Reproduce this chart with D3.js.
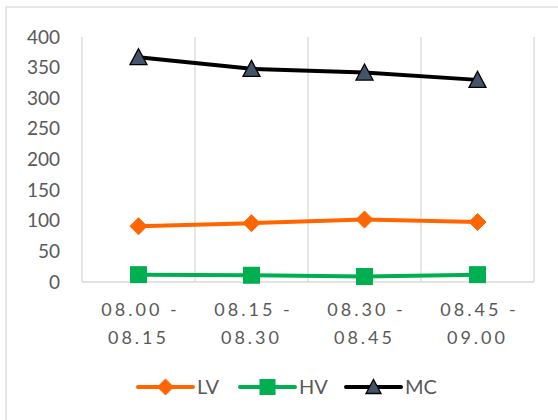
<!DOCTYPE html>
<html>
<head>
<meta charset="utf-8">
<script src="https://cdn.jsdelivr.net/npm/d3@7"></script>
<style>
  html, body { margin: 0; padding: 0; background: #fff; }
  svg { display: block; }
  text { font-family: Lato, "Open Sans", sans-serif; fill: #595959; }
</style>
</head>
<body>
<div id="chart"></div>
<script>
// Time intervals (two-line labels)
const categories = [
  ["08.00 -", "08.15"],
  ["08.15 -", "08.30"],
  ["08.30 -", "08.45"],
  ["08.45 -", "09.00"]
];
const lvValues = [91, 96, 102, 98];
const hvValues = [12, 11, 9, 12];
const mcValues = [367, 348, 342, 330];
const yTicks = [0, 50, 100, 150, 200, 250, 300, 350, 400];

const series = [
  { name: "LV", values: lvValues, color: "#FF6600", marker: "diamond" },
  { name: "HV", values: hvValues, color: "#00B050", marker: "square" },
  { name: "MC", values: mcValues, color: "#000000", marker: "triangle" }
];

const W = 558, H = 420;
const margin = { left: 82, right: 24, top: 37, bottom: 138 };

const svg = d3.select("#chart").append("svg")
  .attr("width", W).attr("height", H);

// chart frame
svg.append("rect")
  .attr("x", 6).attr("y", 7).attr("width", 560).attr("height", 420)
  .attr("fill", "none").attr("stroke", "#d9d9d9").attr("stroke-width", 1.3);

const x = d3.scaleBand()
  .domain(categories.map((d, i) => i))
  .range([margin.left, W - margin.right])
  .paddingInner(0).paddingOuter(0);

const y = d3.scaleLinear()
  .domain([0, 400])
  .range([H - margin.bottom, margin.top]);

// vertical category gridlines
const gridX = categories.map((d, i) => x(i)).concat([x(categories.length - 1) + x.bandwidth()]);
svg.append("g").selectAll("line").data(gridX).join("line")
  .attr("x1", d => d).attr("x2", d => d)
  .attr("y1", y(400)).attr("y2", y(0))
  .attr("stroke", "#d9d9d9").attr("stroke-width", 1.3);

// baseline
svg.append("line")
  .attr("x1", x.range()[0]).attr("x2", x.range()[1])
  .attr("y1", y(0)).attr("y2", y(0))
  .attr("stroke", "#d9d9d9").attr("stroke-width", 1.3);

// y axis labels
const yAxis = d3.axisLeft(y).tickValues(yTicks).tickSize(0).tickPadding(22);
const yg = svg.append("g").attr("transform", `translate(${margin.left},0)`).call(yAxis);
yg.select(".domain").remove();
yg.selectAll("text").style("font-size", "19px").attr("fill", "#595959")
  .style("font-family", "Lato, 'Open Sans', sans-serif");

// x axis labels (two lines, letter-spaced)
const xl = svg.append("g").selectAll("text").data(categories).join("text")
  .attr("text-anchor", "middle")
  .attr("x", (d, i) => x(i) + x.bandwidth() / 2)
  .attr("y", 316)
  .style("font-size", "18px")
  .style("letter-spacing", "3px");
xl.each(function (d) {
  const t = d3.select(this);
  t.append("tspan").attr("x", t.attr("x")).attr("dx", 2).text(d[0]);
  t.append("tspan").attr("x", t.attr("x")).attr("dx", 0).attr("dy", 28).text(d[1]);
});

const cx = i => x(i) + x.bandwidth() / 2;

function drawMarker(g, type, color, r) {
  if (type === "diamond") {
    g.append("path").attr("d", `M0,${-r}L${r},0L0,${r}L${-r},0Z`).attr("fill", color).attr("stroke", color).attr("stroke-width", 1);
  } else if (type === "square") {
    g.append("rect").attr("x", -r).attr("y", -r).attr("width", 2 * r).attr("height", 2 * r).attr("fill", color);
  } else {
    g.append("path").attr("d", `M0,${-r}L${r},${r - 1}L${-r},${r - 1}Z`).attr("fill", "#44546A").attr("stroke", "#000").attr("stroke-width", 1.3);
  }
}

const line = d3.line().x((d, i) => cx(i)).y(d => y(d));

series.forEach(s => {
  svg.append("path").datum(s.values)
    .attr("d", line).attr("fill", "none")
    .attr("stroke", s.color).attr("stroke-width", 4).attr("stroke-linejoin", "round");
  s.values.forEach((v, i) => {
    const g = svg.append("g").attr("transform", `translate(${cx(i)},${y(v)})`);
    drawMarker(g, s.marker, s.color, 8.5);
  });
});

// legend
const legendX = [138, 240, 346];
series.forEach((s, i) => {
  const g = svg.append("g").attr("transform", `translate(${legendX[i]},387)`);
  g.append("line").attr("x1", 0).attr("x2", 55).attr("y1", 0).attr("y2", 0)
    .attr("stroke", s.color).attr("stroke-width", 4).attr("stroke-linecap", "round");
  const m = g.append("g").attr("transform", "translate(27.5,0)");
  drawMarker(m, s.marker, s.color, s.marker === "triangle" ? 7.5 : 8);
  g.append("text").attr("x", 59).attr("y", 7).style("font-size", "20px").text(s.name);
});
</script>
</body>
</html>
